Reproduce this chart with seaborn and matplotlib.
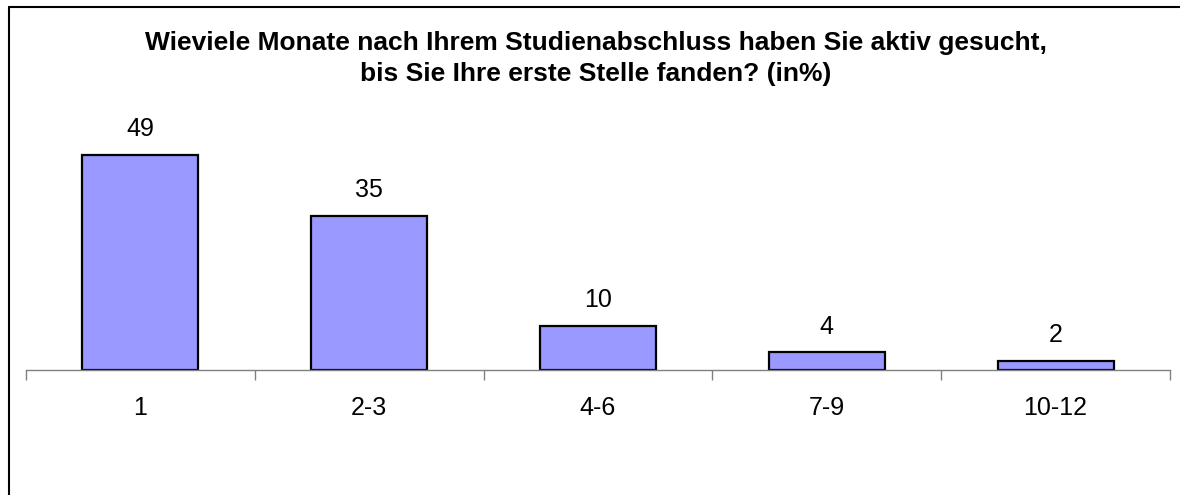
import pandas as pd
import seaborn as sns
import matplotlib.pyplot as plt
from matplotlib.lines import Line2D

# Data
months = ["1", "2-3", "4-6", "7-9", "10-12"]
percent = [49, 35, 10, 4, 2]

title = ("Wieviele Monate nach Ihrem Studienabschluss haben Sie aktiv gesucht,\n"
         "bis Sie Ihre erste Stelle fanden? (in%)")

df = pd.DataFrame({"months": months, "percent": percent})

sns.set_style("white")
plt.rcParams["font.family"] = ["Liberation Sans", "DejaVu Sans"]
plt.rcParams["text.color"] = "black"
plt.rcParams["xtick.color"] = "black"

fig = plt.figure(figsize=(11.8, 4.95), dpi=100)
ax = fig.add_axes([26 / 1180, 125 / 495, 1144 / 1180, 263.4 / 495])

sns.barplot(data=df, x="months", y="percent", ax=ax, color="#9999FF",
            saturation=1, width=0.507, edgecolor="black", linewidth=1.6)

ax.set_xlim(-0.5, len(months) - 0.5)
ax.set_ylim(0, 60)

# value labels above bars
for c in ax.containers:
    ax.bar_label(c, fontsize=18, padding=10, color="black")

# axis styling: only bottom axis line, ticks between categories
for s in ["top", "right", "left"]:
    ax.spines[s].set_visible(False)
ax.spines["bottom"].set_color("#808080")
ax.spines["bottom"].set_linewidth(1.0)
ax.set_yticks([])
ax.set_xlabel("")
ax.set_ylabel("")
ax.set_xticks(range(len(months)))
ax.set_xticklabels(months, fontsize=18)
ax.tick_params(axis="x", which="major", length=0, pad=19, labelcolor="black")
ax.set_xticks([i - 0.5 for i in range(len(months) + 1)], minor=True)
ax.tick_params(axis="x", which="minor", length=7, width=1.0, color="#808080",
               direction="out", bottom=True)

fig.text(0.505, 0.882, title, ha="center", va="center", fontsize=19,
         fontweight="bold", linespacing=1.4, color="black")

# chart frame (only left and top edges visible)
fig.add_artist(Line2D([8.5 / 1180, 8.5 / 1180], [0, 1 - 6.5 / 495],
                      transform=fig.transFigure, color="black", linewidth=1.5))
fig.add_artist(Line2D([8.5 / 1180, 1], [1 - 6.5 / 495, 1 - 6.5 / 495],
                      transform=fig.transFigure, color="black", linewidth=1.5))

fig.savefig("out.png", dpi=100)
